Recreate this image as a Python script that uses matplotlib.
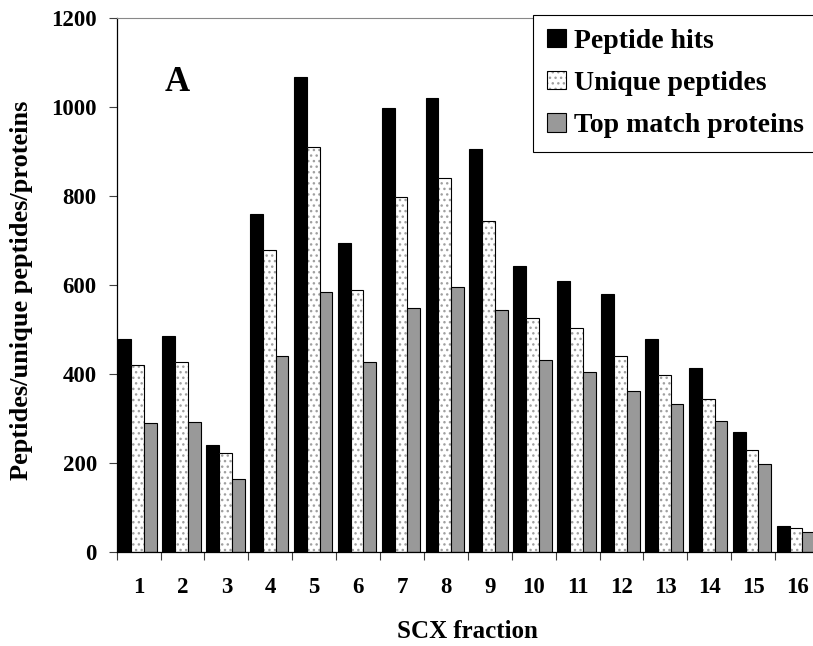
import numpy as np
import matplotlib
matplotlib.use('Agg')
import matplotlib.pyplot as plt

# values
fractions = [str(i) for i in range(1, 17)]
peptide_hits = [480, 486, 240, 760, 1068, 695, 997, 1020, 906, 642, 610, 581, 480, 415, 271, 59]
unique_peptides = [421, 427, 223, 679, 911, 589, 798, 841, 744, 527, 504, 440, 398, 345, 230, 54]
top_match = [290, 293, 165, 440, 584, 427, 548, 595, 545, 431, 404, 363, 334, 294, 198, 46]
y_ticks = [0, 200, 400, 600, 800, 1000, 1200]

plt.rcParams['font.family'] = 'Liberation Serif'
plt.rcParams['font.weight'] = 'bold'
plt.rcParams['hatch.linewidth'] = 1.0

fig = plt.figure(figsize=(8.13, 6.46), dpi=100)
ax = fig.add_axes([116.7 / 813, (646 - 552.3) / 646, 702.3 / 813, 534.3 / 646])

x = np.arange(len(fractions))
w = 0.292
off = -0.025

b1 = ax.bar(x + off - w, peptide_hits, w, color='black', edgecolor='black', linewidth=0.8)
# dotted bars: gray dots first, then a black outline on top
b2 = ax.bar(x + off, unique_peptides, w, color='white', edgecolor='#a0a0a0', linewidth=0, hatch='...')
b2o = ax.bar(x + off, unique_peptides, w, fill=False, edgecolor='black', linewidth=0.8)
b3 = ax.bar(x + off + w, top_match, w, color='#999999', edgecolor='black', linewidth=0.8)

ax.set_xlim(-0.5, 15.5)
ax.set_ylim(0, 1200)
ax.set_yticks(y_ticks)
ax.tick_params(axis='y', length=5.8, width=0.8, pad=8.5, labelsize=16.5, color='#404040')

# ticks between categories, labels at centres
ax.set_xticks(np.arange(-0.5, 16, 1))
ax.set_xticklabels([])
ax.set_xticks(x, minor=True)
ax.set_xticklabels(fractions, minor=True)
ax.tick_params(axis='x', which='major', length=5.5, width=0.8, color='#404040')
ax.tick_params(axis='x', which='minor', length=0, pad=18, labelsize=16.5)

ax.spines['top'].set_color('#888888')
ax.spines['right'].set_visible(False)
ax.spines['left'].set_linewidth(0.9)
ax.spines['bottom'].set_linewidth(0.9)

ax.set_xlabel('SCX fraction', fontsize=18, fontweight='bold')
ax.xaxis.set_label_coords(0.5, -0.149)
ax.xaxis.label.set_va('center')
ax.set_ylabel('Peptides/unique peptides/proteins', fontsize=19, fontweight='bold')
ax.yaxis.set_label_coords(-0.135, 0.491)
ax.yaxis.label.set_va('center')

ax.text(0.0687, 0.864, 'A', transform=ax.transAxes, fontsize=25, fontweight='bold',
        ha='left', va='baseline')

leg = ax.legend([b1, (b2, b2o), b3], ['Peptide hits', 'Unique peptides', 'Top match proteins'],
                loc='upper left', bbox_to_anchor=(533.3 / 813, 1 - 15 / 646),
                bbox_transform=fig.transFigure, borderaxespad=0, fancybox=False,
                frameon=True, edgecolor='black', framealpha=1, fontsize=20,
                handlelength=0.67, handleheight=0.63, handletextpad=0.3,
                labelspacing=0.62, borderpad=0.5)
leg.get_frame().set_linewidth(0.8)

fig.savefig('out.png', dpi=100)
